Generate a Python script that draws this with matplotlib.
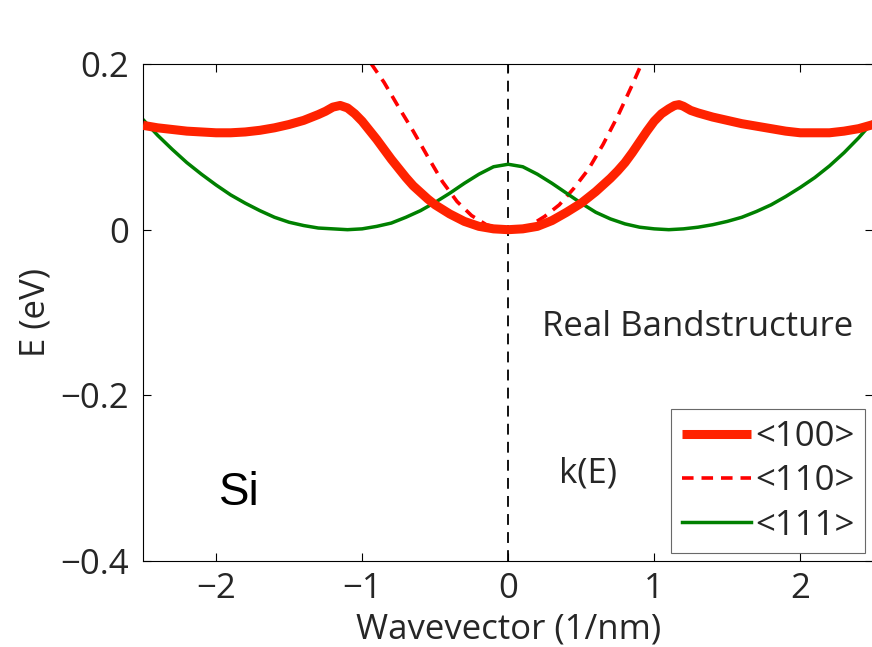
import matplotlib
matplotlib.use("Agg")
import matplotlib.pyplot as plt

# <100> direction (thick red, with thin blue underneath)
k100 = [-2.5, -2.4, -2.3, -2.2, -2.1, -2.0, -1.9, -1.8, -1.7, -1.6, -1.5, -1.4, -1.3, -1.25,
        -1.2, -1.15, -1.1, -1.05, -1.0, -0.95, -0.9, -0.85, -0.8, -0.75, -0.7, -0.65,
        -0.6, -0.55, -0.5, -0.4, -0.3, -0.2, -0.1, 0.0,
        0.1, 0.2, 0.3, 0.4, 0.5, 0.55, 0.6, 0.65, 0.7, 0.75, 0.8, 0.85, 0.9, 0.95, 1.0,
        1.05, 1.1, 1.14, 1.17, 1.2, 1.25, 1.3, 1.4, 1.5, 1.6, 1.7, 1.8, 1.9, 2.0, 2.1,
        2.2, 2.3, 2.4, 2.5]
E100 = [0.126, 0.123, 0.121, 0.119, 0.118, 0.117, 0.117, 0.118, 0.120, 0.123, 0.127, 0.132,
        0.139, 0.143, 0.148, 0.150, 0.147, 0.140, 0.131, 0.120, 0.109, 0.097, 0.085, 0.074,
        0.063, 0.053, 0.045, 0.037, 0.030, 0.019, 0.010, 0.004, 0.001, 0.000,
        0.001, 0.004, 0.011, 0.021, 0.032, 0.039, 0.046, 0.054, 0.062, 0.071, 0.081, 0.093,
        0.106, 0.119, 0.131, 0.140, 0.146, 0.150, 0.151, 0.149, 0.144, 0.141, 0.136, 0.132,
        0.128, 0.125, 0.122, 0.119, 0.117, 0.117, 0.117, 0.119, 0.122, 0.127]

# <110> direction (dashed red)
k110 = [-0.94, -0.85, -0.75, -0.65, -0.55, -0.45, -0.35, -0.25, -0.15, -0.05,
        0.05, 0.15, 0.25, 0.35, 0.45, 0.55, 0.65, 0.75, 0.85, 0.92]
E110 = [0.201, 0.178, 0.148, 0.119, 0.088, 0.058, 0.034, 0.017, 0.006, 0.001,
        0.001, 0.005, 0.016, 0.030, 0.050, 0.073, 0.103, 0.137, 0.175, 0.203]

# <111> direction (green)
k111 = [-2.5, -2.4, -2.3, -2.2, -2.1, -2.0, -1.9, -1.8, -1.7, -1.6, -1.5, -1.4, -1.3, -1.2,
        -1.1, -1.0, -0.9, -0.8, -0.7, -0.6, -0.5, -0.4, -0.3, -0.2, -0.1, 0.0,
        0.1, 0.2, 0.3, 0.4, 0.5, 0.6, 0.7, 0.8, 0.9, 1.0, 1.1, 1.2, 1.3, 1.4, 1.5,
        1.6, 1.7, 1.8, 1.9, 2.0, 2.1, 2.2, 2.3, 2.4, 2.5]
E111 = [0.133, 0.114, 0.097, 0.081, 0.067, 0.054, 0.042, 0.032, 0.023, 0.015, 0.009, 0.005,
        0.002, 0.001, 0.000, 0.001, 0.004, 0.008, 0.015, 0.023, 0.033, 0.044, 0.056,
        0.067, 0.076, 0.079, 0.076, 0.067, 0.056, 0.044, 0.032, 0.021, 0.013, 0.007,
        0.003, 0.001, 0.000, 0.001, 0.003, 0.006, 0.010, 0.015, 0.022, 0.030, 0.040,
        0.051, 0.063, 0.077, 0.093, 0.111, 0.131]

legend_labels = ["<100>", "<110>", "<111>"]
xticks = [-2, -1, 0, 1, 2]
yticks = [0.2, 0, -0.2, -0.4]
ytick_labels = ["0.2", "0", "\u22120.2", "\u22120.4"]
xtick_labels = ["\u22122", "\u22121", "0", "1", "2"]

txt = "#262626"
plt.rcParams['font.family'] = ['Open Sans', 'DejaVu Sans']
FS = 25

fig = plt.figure(figsize=(8.72, 6.47), dpi=100)
ax = fig.add_axes([0.164, 0.133, 0.8375, 0.768])

ax.axvline(0, color="black", lw=1.3, ls=(0, (6, 4)), zorder=1)
ax.plot(k100, E100, color="blue", lw=1.0, zorder=2)
l1, = ax.plot(k100, E100, color="#ff2200", lw=6.5, solid_capstyle="butt",
              solid_joinstyle="round", zorder=3, label=legend_labels[0])
l2, = ax.plot(k110, E110, color="#ff0000", lw=2.6, ls=(0, (3.2, 2.2)), zorder=2,
              label=legend_labels[1])
l3, = ax.plot(k111, E111, color="#008000", lw=2.5, zorder=2, label=legend_labels[2])

ax.set_xlim(-2.5, 2.5)
ax.set_ylim(-0.4, 0.2)
ax.set_xticks(xticks)
ax.set_xticklabels(xtick_labels)
ax.set_yticks(yticks)
ax.set_yticklabels(ytick_labels)
ax.tick_params(direction="in", top=True, right=True, length=6, width=0.8,
               labelsize=FS, labelcolor=txt)
ax.tick_params(axis="x", pad=8)
ax.tick_params(axis="y", pad=10)
for s in ax.spines.values():
    s.set_linewidth(0.8)

ax.set_xlabel("Wavevector (1/nm)", fontsize=FS, color=txt, va="center")
ax.xaxis.set_label_coords(0.5, -0.138)
ax.set_ylabel("E (eV)", fontsize=FS, color=txt, labelpad=6)

ax.text(1.3, -0.117, "Real Bandstructure", fontsize=FS, color=txt,
        ha="center", va="center")
ax.text(0.55, -0.295, "k(E)", fontsize=FS, color=txt, ha="center", va="center")
ax.text(-1.84, -0.318, "Si", fontsize=33, color="black", ha="center", va="center",
        family="Liberation Sans")

leg = ax.legend(handles=[l1, l2, l3], loc="lower right",
                bbox_to_anchor=(0.988, 0.016), fontsize=FS, frameon=True,
                fancybox=False, edgecolor="#444444", handlelength=2.0,
                handletextpad=0.1, borderpad=0.3, labelspacing=0.3,
                borderaxespad=0)
leg.get_frame().set_linewidth(0.8)
for t in leg.get_texts():
    t.set_color(txt)

fig.savefig("out.png", dpi=100)
